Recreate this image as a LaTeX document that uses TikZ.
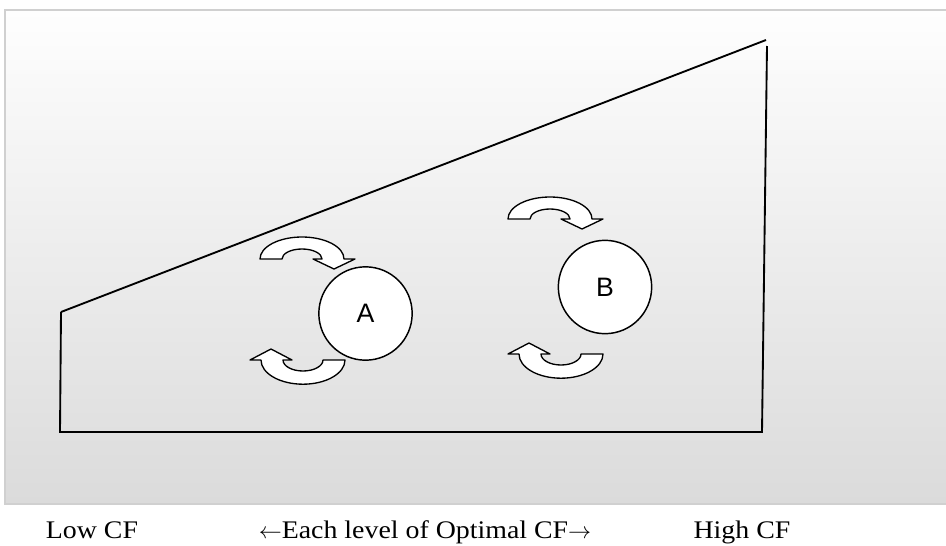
\documentclass[tikz,border=0pt]{standalone}
\usepackage{fontspec}
\setmainfont{Liberation Serif}
\setsansfont{Liberation Sans}
\newfontfamily\axisfont[FakeStretch=1.1]{Liberation Serif}
\definecolor{paneltop}{HTML}{FEFEFE}
\definecolor{panelbot}{HTML}{DBDBDB}
\definecolor{panelrim}{HTML}{D0D0D0}

\begin{document}
\begin{tikzpicture}[
  x=0.75pt, y=-0.75pt,
  rim/.style={draw=panelrim, line width=1.5pt},
  outline/.style={line width=1.4pt, line join=miter},
  stage/.style={circle, draw, fill=white, line width=1.1pt, minimum size=70pt,
    inner sep=0pt, font=\sffamily\fontsize{20}{20}\selectfont},
  band/.style={draw, fill=white, line width=1pt, line join=round},
  axislbl/.style={anchor=base, inner sep=0pt, font=\axisfont\fontsize{19}{22}\selectfont},
  turn/.pic={
    \path[band] (-42,0) arc[start angle=180, end angle=360, x radius=42, y radius=22]
      -- (53,0) -- (32,10) -- (11,0) -- (20,0)
      arc[start angle=0, end angle=-180, x radius=20, y radius=10] -- cycle;}]

\useasboundingbox (0,0) rectangle (946,546);

% ---- shaded panel ----
\shade[top color=paneltop, bottom color=panelbot] (5,10) rectangle (950,504);
\draw[rim] (5,10) rectangle (950,504);

% ---- the wedge ----
\draw[outline] (61,312) -- (766,40);
\draw[outline] (767,46) -- (762,432) -- (60,432) -- (61,312);

% ---- the two stages and their turning arrows ----
\node[stage] (stageA) at (365.5,313.5) {A};
\node[stage] (stageB) at (605,287) {B};

\pic (upA) at (302,259) {turn};
\pic[rotate=180, yscale=1.1] (loA) at (303,360) {turn};
\pic (upB) at (550,219) {turn};
\pic[rotate=180, yscale=1.1] (loB) at (561,354) {turn};

% ---- axis captions ----
\node[axislbl] (lowcf) at (92,538) {Low CF};
\node[axislbl] (midcf) at (425,538) {$\leftarrow$Each level of Optimal CF$\rightarrow$};
\node[axislbl] (highcf) at (742,538) {High CF};

\end{tikzpicture}
\end{document}
